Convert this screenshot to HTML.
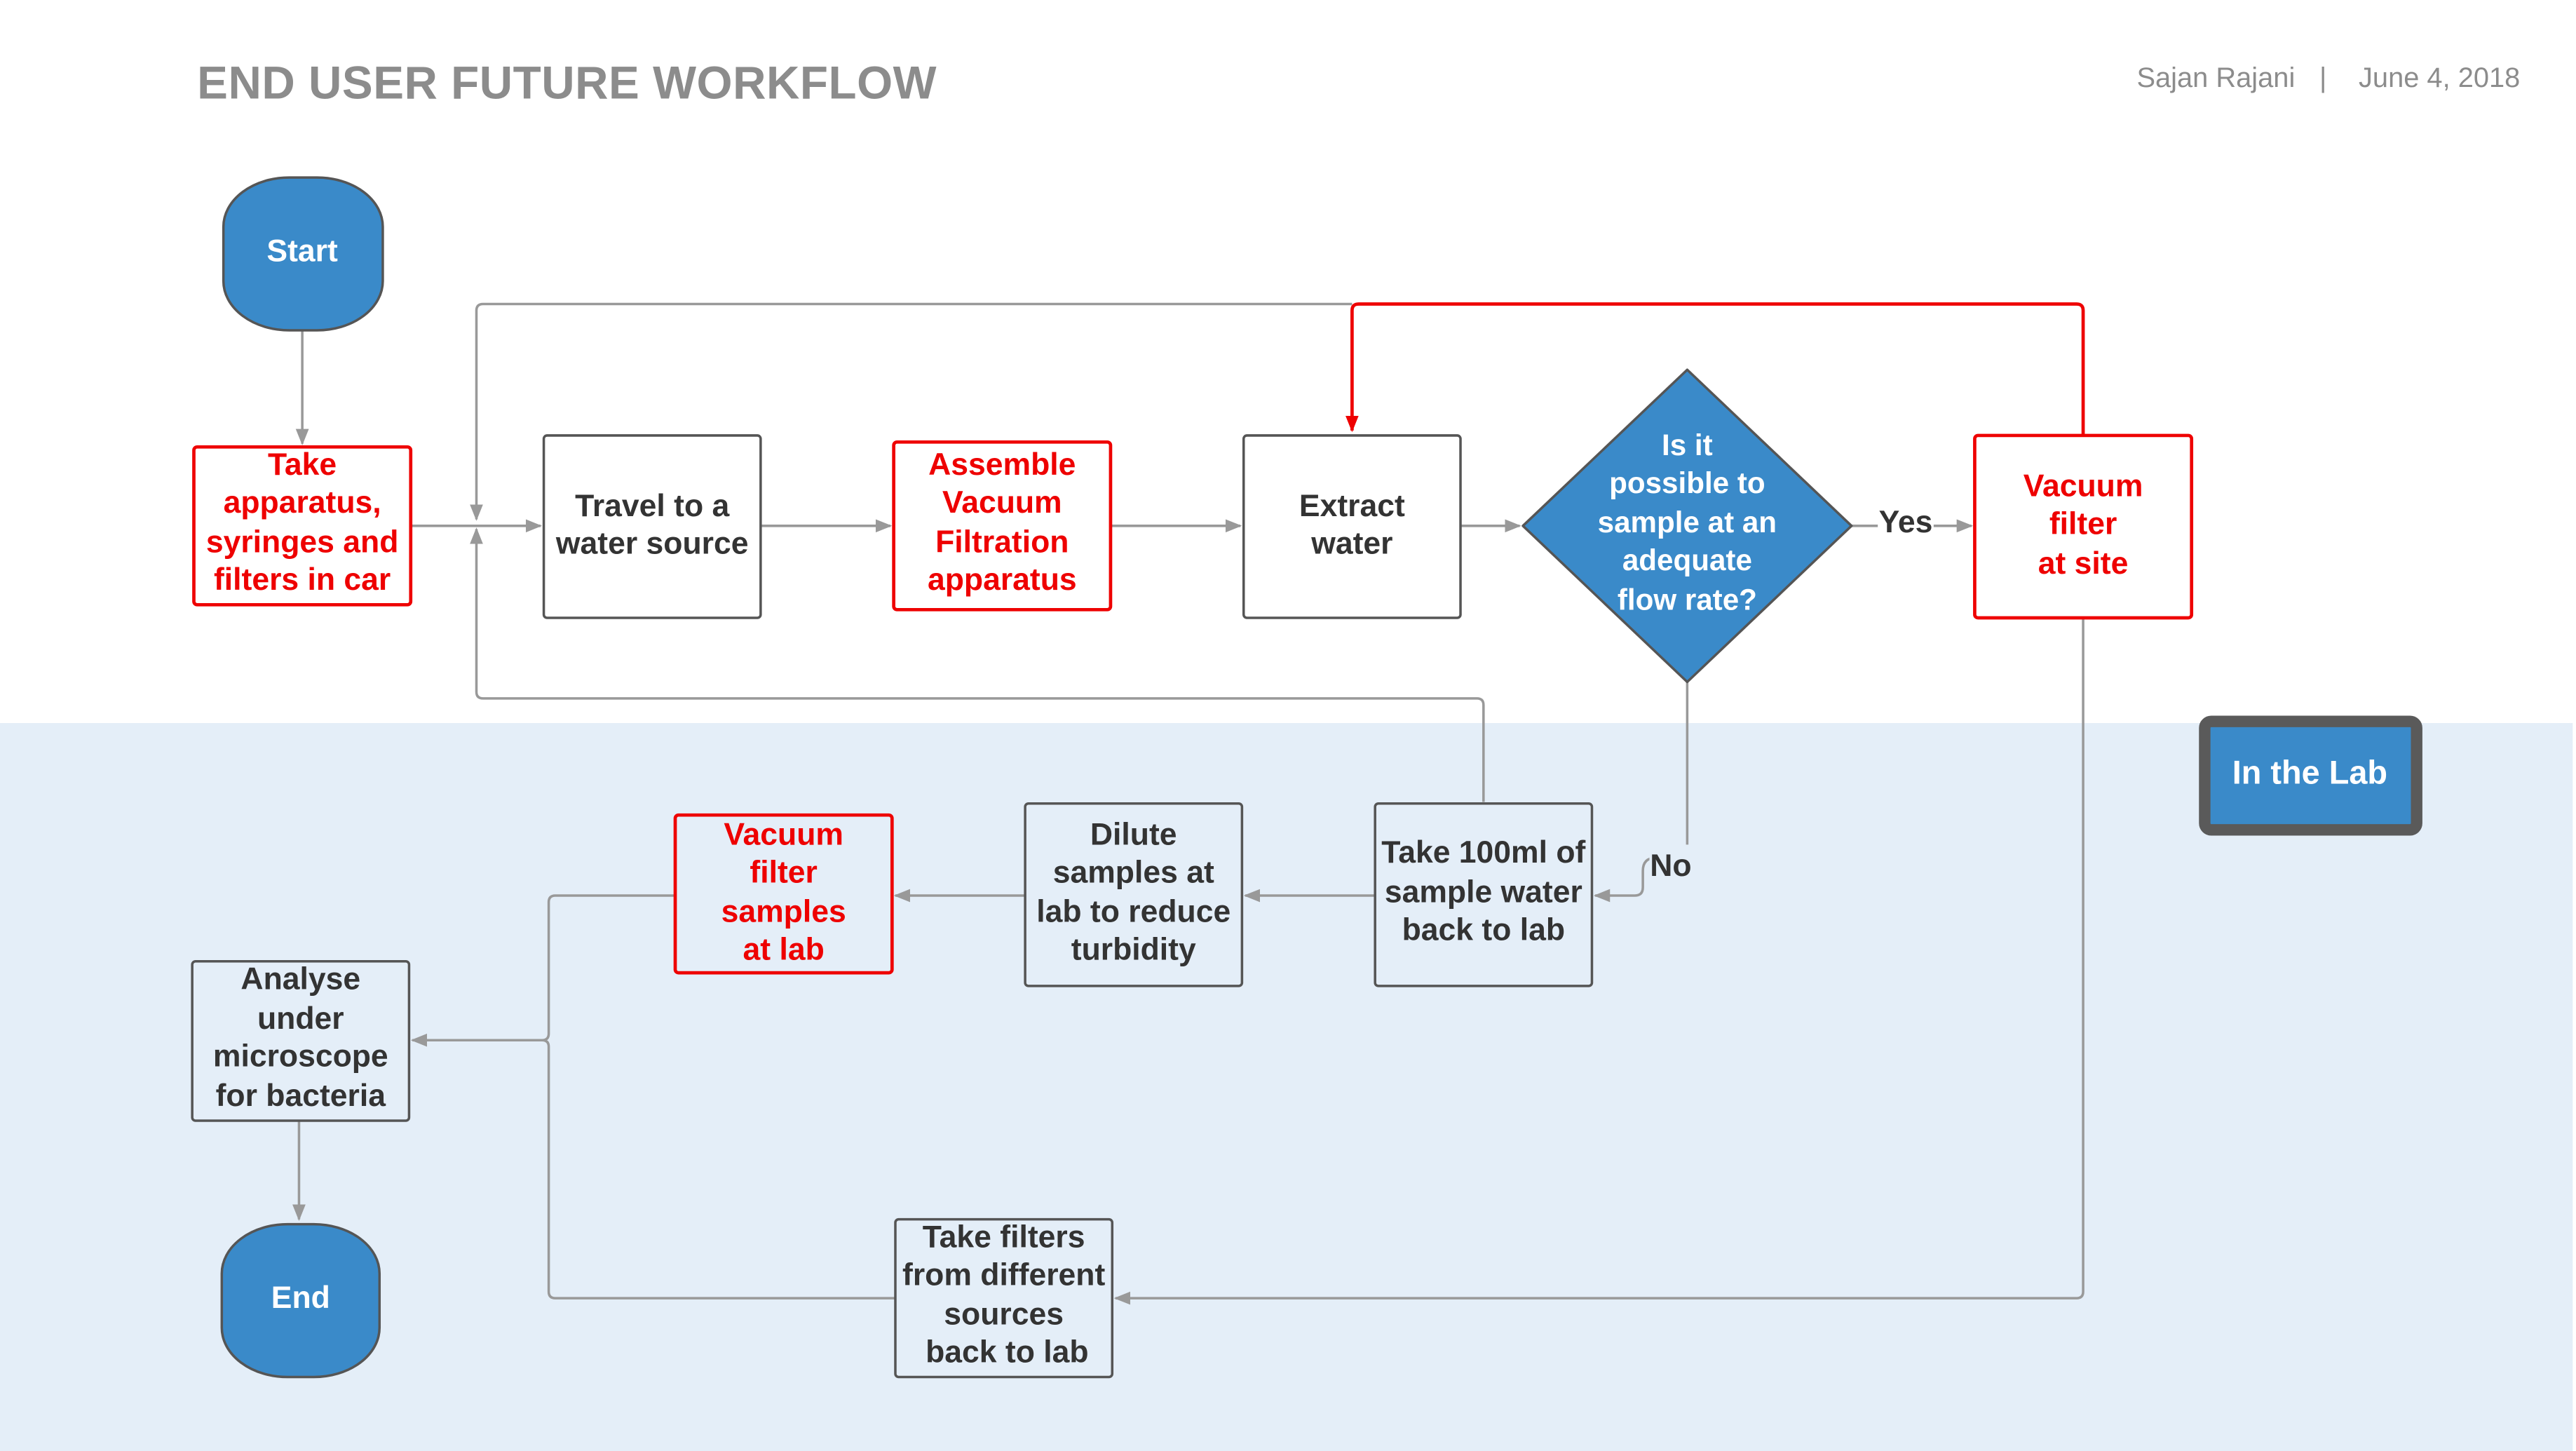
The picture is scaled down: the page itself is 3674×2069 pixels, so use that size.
<!DOCTYPE html>
<html><head><meta charset="utf-8"><style>
html,body{margin:0;padding:0;background:#fff;}
svg{display:block;}
text{font-family:"Liberation Sans",sans-serif;}
.b{font-weight:bold;font-size:19px;fill:#333;text-anchor:middle;}
.r{font-weight:bold;font-size:19px;fill:#e00;text-anchor:middle;}
.w{font-weight:bold;font-size:19px;fill:#fff;text-anchor:middle;}
.box{fill:#fff;stroke:#555;stroke-width:1.5;}
.bl{fill:#e4eef8;stroke:#555;stroke-width:1.5;}
.rb{fill:#fff;stroke:#e00;stroke-width:2;}
.rbl{fill:#e4eef8;stroke:#e00;stroke-width:2;}
.ln{fill:none;stroke:#999;stroke-width:1.5;}
.rl{fill:none;stroke:#e00;stroke-width:2;}
</style></head><body>
<svg width="3674" height="2069" viewBox="0 0 1568 883" xmlns="http://www.w3.org/2000/svg">
<defs>
<marker id="a" markerWidth="10" markerHeight="10" refX="9" refY="5" orient="auto" markerUnits="userSpaceOnUse"><path d="M0,1 L10,5 L0,9 Z" fill="#999"/></marker>
<marker id="ar" markerWidth="10" markerHeight="10" refX="9" refY="5" orient="auto" markerUnits="userSpaceOnUse"><path d="M0,1 L10,5 L0,9 Z" fill="#e00"/></marker>
</defs>
<rect x="0" y="0" width="1568" height="883" fill="#fff"/>
<rect x="0" y="440" width="1566" height="443" fill="#e4eef8"/>
<text x="120" y="60" style="font-size:28px;font-weight:bold;fill:#8c8c8c" textLength="450">END USER FUTURE WORKFLOW</text>
<text x="1397" y="53" style="font-size:17px;fill:#8c8c8c;text-anchor:end">Sajan Rajani</text>
<text x="1414" y="53" style="font-size:17px;fill:#8c8c8c;text-anchor:middle">|</text>
<text x="1534" y="53" style="font-size:17px;fill:#8c8c8c;text-anchor:end">June 4, 2018</text>

<!-- connectors -->
<path class="ln" d="M184,201 V270" marker-end="url(#a)"/>
<path class="ln" d="M250,320 H329" marker-end="url(#a)"/>
<path class="ln" d="M463,320 H542" marker-end="url(#a)"/>
<path class="ln" d="M676,320 H755" marker-end="url(#a)"/>
<path class="ln" d="M889,320 H925" marker-end="url(#a)"/>
<path class="ln" d="M1127,320 H1200" marker-end="url(#a)"/>
<path class="ln" d="M823,185 H294 Q290,185 290,189 V316" marker-end="url(#a)"/>
<path class="ln" d="M903,488 V429 Q903,425 899,425 H294 Q290,425 290,421 V322" marker-end="url(#a)"/>
<path class="rl" d="M1268,265 V189 Q1268,185 1264,185 H827 Q823,185 823,189 V262" marker-end="url(#ar)"/>
<path class="ln" d="M1027,415 V518 Q1027,522 1023,522 H1008 Q1000,522 1000,530 V540 Q1000,545 995,545 H971" marker-end="url(#a)"/>
<path class="ln" d="M837,545 H758" marker-end="url(#a)"/>
<path class="ln" d="M624,545 H545" marker-end="url(#a)"/>
<path class="ln" d="M411,545 H338 Q334,545 334,549 V629 Q334,633 330,633 H251" marker-end="url(#a)"/>
<path class="ln" d="M545,790 H338 Q334,790 334,786 V637 Q334,633 330,633"/>
<path class="ln" d="M1268,376 V786 Q1268,790 1264,790 H679" marker-end="url(#a)"/>
<path class="ln" d="M182,682 V742" marker-end="url(#a)"/>

<rect x="1143" y="308" width="34" height="20" fill="#fff"/>
<text x="1160" y="324" style="font-size:19px;font-weight:bold;fill:#333;text-anchor:middle">Yes</text>
<rect x="1004" y="514" width="28" height="22" fill="#e4eef8"/>
<text x="1017" y="533" style="font-size:19px;font-weight:bold;fill:#333;text-anchor:middle">No</text>

<!-- Start / End -->
<rect x="136" y="108" width="97" height="93" rx="40" ry="30" fill="#3a8ac9" stroke="#555" stroke-width="1.5"/>
<text class="w" x="184" y="159">Start</text>
<rect x="135" y="745" width="96" height="93" rx="40" ry="30" fill="#3a8ac9" stroke="#555" stroke-width="1.5"/>
<text class="w" x="183" y="796">End</text>

<rect class="rb" x="118" y="272" width="132" height="96" rx="2"/>
<text class="r"><tspan x="184" y="289">Take</tspan><tspan x="184" y="312">apparatus,</tspan><tspan x="184" y="336">syringes and</tspan><tspan x="184" y="359">filters in car</tspan></text>

<rect class="box" x="331" y="265" width="132" height="111" rx="2"/>
<text class="b"><tspan x="397" y="314">Travel to a</tspan><tspan x="397" y="337">water source</tspan></text>

<rect class="rb" x="544" y="269" width="132" height="102" rx="2"/>
<text class="r"><tspan x="610" y="289">Assemble</tspan><tspan x="610" y="312">Vacuum</tspan><tspan x="610" y="336">Filtration</tspan><tspan x="610" y="359">apparatus</tspan></text>

<rect class="box" x="757" y="265" width="132" height="111" rx="2"/>
<text class="b"><tspan x="823" y="314">Extract</tspan><tspan x="823" y="337">water</tspan></text>

<path d="M1027,225 L1127,320 L1027,415 L927,320 Z" fill="#3a8ac9" stroke="#555" stroke-width="1.5" stroke-linejoin="round"/>
<text class="w" style="font-size:18px"><tspan x="1027" y="277">Is it</tspan><tspan x="1027" y="300">possible to</tspan><tspan x="1027" y="324">sample at an</tspan><tspan x="1027" y="347">adequate</tspan><tspan x="1027" y="371">flow rate?</tspan></text>

<rect class="rb" x="1202" y="265" width="132" height="111" rx="2"/>
<text class="r"><tspan x="1268" y="302">Vacuum</tspan><tspan x="1268" y="325">filter</tspan><tspan x="1268" y="349">at site</tspan></text>

<rect class="bl" x="837" y="489" width="132" height="111" rx="2"/>
<text class="b"><tspan x="903" y="525">Take 100ml of</tspan><tspan x="903" y="549">sample water</tspan><tspan x="903" y="572">back to lab</tspan></text>

<rect class="bl" x="624" y="489" width="132" height="111" rx="2"/>
<text class="b"><tspan x="690" y="514">Dilute</tspan><tspan x="690" y="537">samples at</tspan><tspan x="690" y="561">lab to reduce</tspan><tspan x="690" y="584">turbidity</tspan></text>

<rect class="rbl" x="411" y="496" width="132" height="96" rx="2"/>
<text class="r"><tspan x="477" y="514">Vacuum</tspan><tspan x="477" y="537">filter</tspan><tspan x="477" y="561">samples</tspan><tspan x="477" y="584">at lab</tspan></text>

<rect class="bl" x="117" y="585" width="132" height="97" rx="2"/>
<text class="b"><tspan x="183" y="602">Analyse</tspan><tspan x="183" y="626">under</tspan><tspan x="183" y="649">microscope</tspan><tspan x="183" y="673">for bacteria</tspan></text>

<rect class="bl" x="545" y="742" width="132" height="96" rx="2"/>
<text class="b"><tspan x="611" y="759">Take filters</tspan><tspan x="611" y="782">from different</tspan><tspan x="611" y="806">sources</tspan><tspan x="613" y="829">back to lab</tspan></text>

<rect x="1342" y="439" width="129" height="66" rx="4" fill="#3a8ac9" stroke="#5a5a5a" stroke-width="7"/>
<text x="1406" y="477" style="font-size:20px;font-weight:bold;fill:#fff;text-anchor:middle">In the Lab</text>
</svg>
</body></html>
